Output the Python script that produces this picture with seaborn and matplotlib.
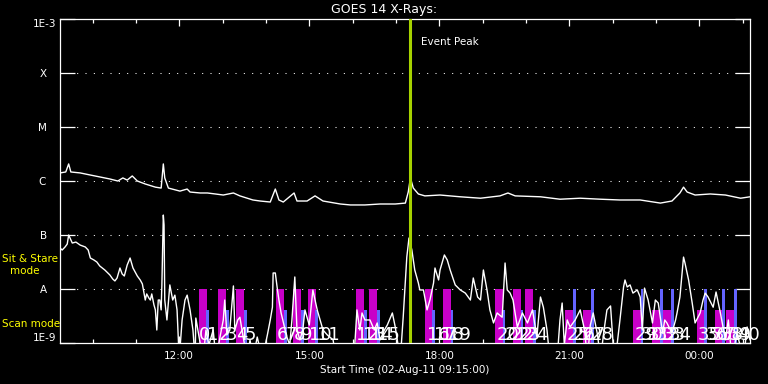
import matplotlib
matplotlib.use('Agg')
import matplotlib.pyplot as plt
import seaborn as sns
import pandas as pd
from matplotlib.ticker import NullLocator

# ---------------- data ----------------
# time axis: minutes after start time 02-Aug-11 09:15:00
long_t = [0, 8, 12, 15, 28, 42, 55, 69, 80, 87,
          93, 100, 107, 118, 132, 140, 143, 145, 150, 166,
          176, 180, 194, 204, 215, 226, 240, 249, 267, 277,
          291, 298, 303, 309, 324, 328, 342, 353, 364, 388,
          402, 422, 443, 464, 478, 482, 485, 489, 496, 505,
          526, 554, 582, 609, 620, 630, 665, 692, 720, 748,
          775, 803, 831, 847, 858, 863, 868, 879, 900, 921,
          942, 955]
long_flux = [1.41e-6, 1.47e-6, 2.07e-6, 1.47e-6, 1.41e-6, 1.29e-6, 1.19e-6, 1.09e-6, 1.0e-6, 1.14e-6,
             1.04e-6, 1.24e-6, 1.0e-6, 8.8e-7, 7.7e-7, 7.4e-7, 2.07e-6, 1.14e-6, 7.4e-7, 6.5e-7,
             7.1e-7, 6.25e-7, 6.0e-7, 6.0e-7, 5.75e-7, 5.5e-7, 6.0e-7, 5.3e-7, 4.45e-7, 4.26e-7,
             4.08e-7, 7.1e-7, 4.45e-7, 4.08e-7, 6.0e-7, 4.26e-7, 4.26e-7, 5.3e-7, 4.26e-7, 3.75e-7,
             3.6e-7, 3.6e-7, 3.75e-7, 3.75e-7, 3.9e-7, 6.25e-7, 1.14e-6, 7.4e-7, 5.75e-7, 5.3e-7,
             5.5e-7, 5.1e-7, 4.8e-7, 5.3e-7, 6.0e-7, 5.3e-7, 5.1e-7, 4.6e-7, 4.8e-7, 4.6e-7,
             4.45e-7, 4.45e-7, 3.9e-7, 4.26e-7, 6.0e-7, 7.7e-7, 6.25e-7, 5.5e-7, 5.75e-7, 5.5e-7,
             4.8e-7, 5.1e-7]

short_t = [0, 3, 7, 10, 12, 17, 22, 28, 35, 39,
           42, 47, 51, 55, 62, 69, 73, 76, 79, 83,
           86, 89, 93, 97, 101, 104, 107, 111, 114, 115,
           118, 120, 123, 125, 127, 130, 132, 134, 136, 138,
           140, 141, 143, 144, 145, 148, 152, 156, 159, 162,
           165, 169, 173, 176, 180, 184, 187, 188, 192, 198,
           202, 206, 212, 216, 222, 226, 228, 231, 235, 240,
           242, 246, 249, 253, 259, 263, 267, 273, 280, 287,
           291, 294, 295, 298, 301, 303, 306, 310, 314, 318,
           321, 325, 328, 332, 336, 339, 345, 350, 353, 356,
           360, 364, 370, 378, 382, 402, 408, 411, 415, 418,
           422, 429, 435, 439, 443, 449, 453, 460, 464, 471,
           475, 480, 483, 487, 491, 496, 498, 503, 508, 512,
           517, 519, 524, 526, 532, 536, 540, 547, 554, 561,
           568, 572, 578, 582, 586, 591, 595, 600, 605, 612,
           616, 619, 623, 627, 633, 640, 647, 654, 660, 665,
           669, 674, 678, 688, 692, 695, 698, 702, 706, 713,
           720, 726, 730, 734, 738, 744, 748, 753, 757, 762,
           767, 771, 775, 780, 782, 785, 789, 793, 799, 803,
           806, 809, 814, 820, 824, 828, 834, 837, 840, 847,
           852, 854, 858, 863, 865, 870, 875, 879, 886, 890,
           893, 897, 904, 908, 914, 921, 925, 930, 937, 946,
           951, 955]
short_flux = [5.74e-8, 5.27e-8, 6.0e-8, 6.8e-8, 1.0e-7, 7.1e-8, 7.4e-8, 6.5e-8, 6.0e-8, 5.27e-8,
              3.75e-8, 3.44e-8, 3.16e-8, 2.67e-8, 2.25e-8, 1.82e-8, 1.53e-8, 1.41e-8, 1.6e-8, 2.45e-8,
              1.9e-8, 1.74e-8, 2.78e-8, 3.75e-8, 2.45e-8, 2.07e-8, 1.74e-8, 1.47e-8, 1.24e-8, 1.04e-8,
              6.25e-9, 8.1e-9, 6.8e-9, 6.25e-9, 8.1e-9, 5.1e-9, 4.1e-9, 1.74e-9, 6.25e-9, 6.25e-9,
              4.1e-9, 1.19e-8, 2.34e-7, 1.53e-7, 6.25e-9, 2.67e-9, 1.19e-8, 6.25e-9, 7.7e-9, 4.1e-9,
              5e-10, 2.67e-9, 6.25e-9, 7.7e-9, 4.1e-9, 1.74e-9, 5e-10, 2.9e-9, 1.41e-9, 5e-10,
              1.74e-9, 9.2e-10, 1.74e-9, 5e-10, 1.41e-9, 2.67e-9, 6.25e-9, 1.41e-9, 1.74e-9, 1.14e-8,
              1.74e-9, 2.67e-9, 3.0e-9, 1.41e-9, 5e-10, 1.14e-9, 5e-10, 1.29e-9, 5e-10, 1.41e-9,
              2.67e-9, 4.6e-9, 1.98e-8, 1.98e-8, 9.6e-9, 6.25e-9, 3.6e-9, 2.15e-9, 1.29e-9, 9.2e-10,
              2.67e-9, 1.67e-8, 1.74e-9, 1.14e-9, 1.74e-9, 4.1e-9, 2.15e-9, 9.6e-9, 6.25e-9, 4.1e-9,
              2.67e-9, 1.74e-9, 1.41e-9, 1.14e-9, 5e-10, 5e-10, 9.2e-10, 4.1e-9, 1.74e-9, 3.6e-9,
              2.67e-9, 2.67e-9, 1.74e-9, 2.35e-9, 1.14e-9, 1.74e-9, 2.15e-9, 3.6e-9, 1.98e-9, 5e-10,
              3.0e-9, 3.9e-8, 8.8e-8, 5.27e-8, 2.25e-8, 1.29e-8, 9.6e-9, 9.6e-9, 4.1e-9, 6.25e-9,
              1.29e-8, 2.45e-8, 1.47e-8, 2.25e-8, 4.27e-8, 3.44e-8, 2.25e-8, 1.19e-8, 9.6e-9, 8.4e-9,
              6.25e-9, 1.6e-8, 7.1e-9, 6.25e-9, 2.25e-8, 9.6e-9, 4.1e-9, 2.35e-9, 3.6e-9, 3.0e-9,
              3.03e-8, 9.6e-9, 8.4e-9, 6.25e-9, 1.98e-9, 3.6e-9, 2.35e-9, 4.1e-9, 1.29e-9, 7.1e-9,
              4.6e-9, 1.74e-9, 5e-10, 5e-10, 2.67e-9, 5.5e-9, 9.2e-10, 2.67e-9, 1.98e-9, 2.67e-9,
              4.1e-9, 1.74e-9, 5e-10, 2.15e-9, 3.6e-9, 1.41e-9, 5e-10, 1.74e-9, 4.1e-9, 4.85e-9,
              5e-10, 9.2e-10, 2.67e-9, 1.09e-8, 1.47e-8, 1.09e-8, 1.19e-8, 8.4e-9, 9.6e-9, 7.1e-9,
              1.74e-9, 1.04e-8, 6.25e-9, 2.35e-9, 6.25e-9, 5.5e-9, 1.53e-9, 2.67e-9, 2.35e-9, 1.53e-9,
              2.67e-9, 3.6e-9, 7.1e-9, 3.9e-8, 3.03e-8, 1.47e-8, 5.5e-9, 2.35e-9, 3.6e-9, 6.25e-9,
              8.4e-9, 7.1e-9, 4.6e-9, 8.8e-9, 3.6e-9, 1.14e-9, 2.67e-9, 5e-10, 1.53e-9, 5e-10,
              1.98e-9, 1.14e-9]

event_peak_t = 485

# observations (start minute, mode)
obs_start = [192, 219, 244, 299, 323, 343, 410, 428, 505, 530,
             602, 627, 644, 699, 724, 793, 820, 835, 881, 906, 922]
obs_mode = ['stare', 'stare', 'stare', 'stare', 'stare', 'stare', 'stare',
            'stare', 'stare', 'stare', 'stare', 'stare', 'stare',
            'scan', 'scan', 'scan', 'scan', 'scan', 'scan', 'scan', 'scan']
tall_level = 1e-8
short_level = 4.1e-9
bar_floor = 1e-9

# observation number labels
label_t = [192, 204, 219, 230, 244, 255,
           300, 312, 323, 334, 345, 356,
           410, 420, 429, 439,
           508, 518, 528, 537,
           605, 615, 624, 634, 645,
           701, 710, 724, 734,
           795, 804, 814, 824, 834, 843,
           882, 893, 904, 915, 926, 937]
label_txt = ['0', '1', '2', '3', '4', '5',
             '6', '7', '8', '9', '10', '11',
             '12', '13', '14', '15',
             '16', '17', '18', '19',
             '20', '21', '22', '23', '24',
             '25', '26', '27', '28',
             '29', '30', '31', '32', '33', '34',
             '35', '36', '37', '38', '39', '40']

xtick_major = [165, 345, 525, 705, 885]
xtick_labels = ['12:00', '15:00', '18:00', '21:00', '00:00']
xtick_minor = [45, 105, 225, 285, 405, 465, 585, 645, 765, 825, 945]
ytick_vals = [1e-3, 1e-4, 1e-5, 1e-6, 1e-7, 1e-8, 1e-9]
ytick_labels = ['1E-3', 'X   ', 'M   ', 'C   ', 'B   ', 'A   ', '1E-9']
grid_levels = [1e-4, 1e-5, 1e-6, 1e-7, 1e-8]

# ---------------- style ----------------
sns.set_theme(style='ticks', rc={
    'figure.facecolor': 'black', 'axes.facecolor': 'black',
    'savefig.facecolor': 'black', 'axes.edgecolor': 'white',
    'axes.linewidth': 0.9, 'text.color': 'white', 'axes.labelcolor': 'white',
    'xtick.color': 'white', 'ytick.color': 'white'})
plt.rcParams['font.family'] = ['DejaVu Sans']
plt.rcParams['font.size'] = 7.5

fig = plt.figure(figsize=(7.68, 3.84), dpi=100)
ax = fig.add_axes([60 / 768, 41 / 384, 690 / 768, 324 / 384])
ax.set_yscale('log')

# grid lines
for lv in grid_levels:
    ax.axhline(lv, color='white', lw=0.75, ls=(0, (1, 7)), zorder=0.5)

# observation bars
mag_top = [tall_level if m == 'stare' else short_level for m in obs_mode]
blue_top = [short_level if m == 'stare' else tall_level for m in obs_mode]
ax.bar(obs_start, [v - bar_floor for v in mag_top], bottom=bar_floor, width=11,
       align='edge', color='#c800c8', linewidth=0, zorder=1)
ax.bar([t + 10.5 for t in obs_start], [v - bar_floor for v in blue_top],
       bottom=bar_floor, width=4, align='edge', color='#6464ff', linewidth=0, zorder=1.1)

# curves
df_long = pd.DataFrame({'t': long_t, 'flux': long_flux})
df_short = pd.DataFrame({'t': short_t, 'flux': short_flux})
sns.lineplot(data=df_long, x='t', y='flux', ax=ax, color='white', lw=1.0,
             estimator=None, sort=False, zorder=3)
sns.lineplot(data=df_short, x='t', y='flux', ax=ax, color='white', lw=1.0,
             estimator=None, sort=False, zorder=3)

# event peak
ax.axvline(event_peak_t, color='#a6d200', lw=2.2, zorder=4)
ax.annotate('Event Peak', xy=(event_peak_t, 0.929), xycoords=('data', 'axes fraction'),
            xytext=(7.5, 0), textcoords='offset points', va='center', ha='left',
            color='white', fontsize=7.5)

# observation labels
for t, s in zip(label_t, label_txt):
    ax.text(t, 0.009, s, transform=ax.get_xaxis_transform(), color='white',
            fontsize=13, family=['Liberation Sans Narrow', 'DejaVu Sans'],
            va='baseline', ha='left', zorder=5)

ax.set_xlim(0, 955)
ax.set_ylim(1e-9, 1e-3)
ax.set_xticks(xtick_major, xtick_labels)
ax.set_xticks(xtick_minor, minor=True)
ax.set_yticks(ytick_vals, ytick_labels)
ax.yaxis.set_minor_locator(NullLocator())
ax.tick_params(axis='x', which='major', direction='in', length=5, width=0.9,
               top=True, bottom=True, pad=5.5, labelsize=7.5)
ax.tick_params(axis='x', which='minor', direction='in', length=3, width=0.9,
               top=True, bottom=True)
ax.tick_params(axis='y', which='major', direction='in', length=10.5, width=0.9,
               left=True, right=True, pad=2.5, labelsize=7.5)
ylabs = ax.get_yticklabels()
ylabs[0].set_va('top')
ylabs[-1].set_va('bottom')
for sp in ax.spines.values():
    sp.set_visible(True)
    sp.set_color('white')

ax.set_xlabel('Start Time (02-Aug-11 09:15:00)', labelpad=3, fontsize=7.5, color='white')
ax.set_ylabel('')

fig.text(0.5, 1 - 9 / 384, 'GOES 14 X-Rays:', ha='center', va='center',
         fontsize=9, color='white')
fig.text(2 / 768, 1 - 258.5 / 384, 'Sit & Stare', ha='left', va='center',
         fontsize=7.5, color='#ffff00')
fig.text(24.5 / 768, 1 - 271.5 / 384, 'mode', ha='center', va='center',
         fontsize=7.5, color='#ffff00')
fig.text(2 / 768, 1 - 324 / 384, 'Scan mode', ha='left', va='center',
         fontsize=7.5, color='#ffff00')

fig.savefig('out.png', dpi=100, facecolor='black')
